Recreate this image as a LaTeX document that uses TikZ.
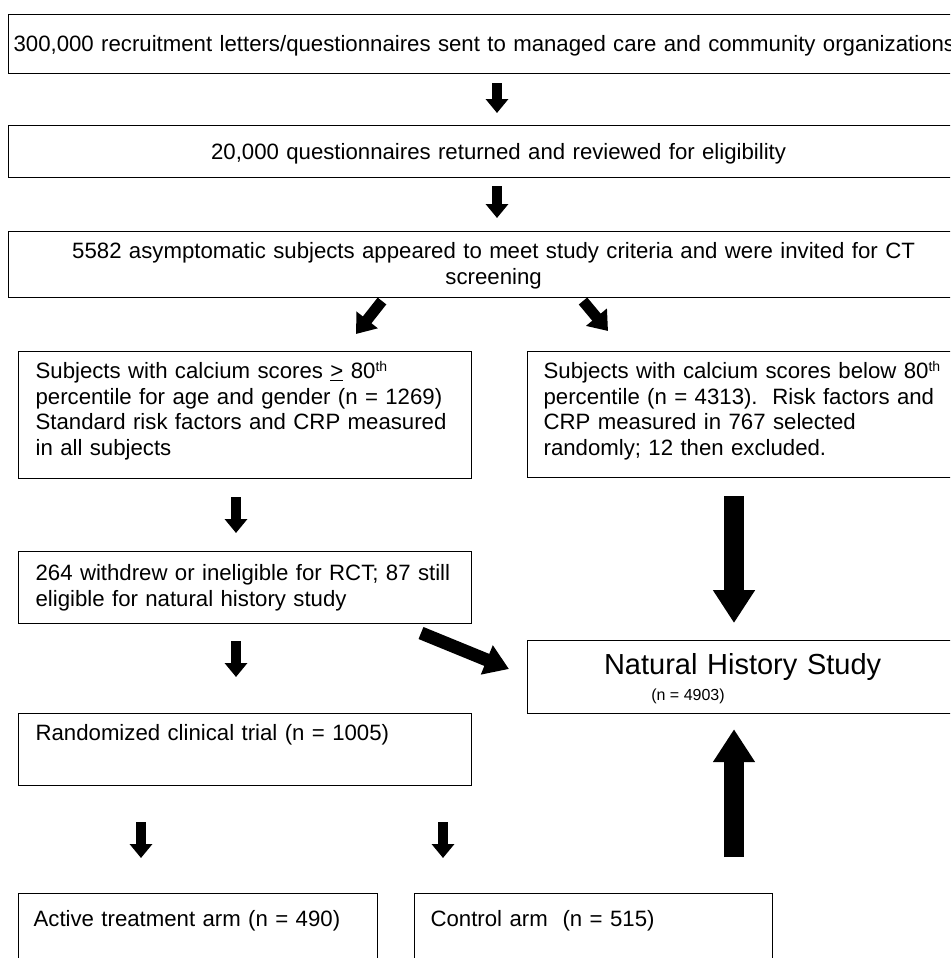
\documentclass[tikz,border=0pt]{standalone}
\usepackage{tikz}
\usepackage{xcolor}
\usepackage{fontspec}
\setmainfont{Liberation Sans}
\usetikzlibrary{arrows.meta}

\newcommand{\bodysize}{\fontsize{22.2}{25.5}\selectfont}
\newcommand{\ordth}{\textsuperscript{\fontsize{14}{14}\selectfont th}}

\begin{document}
\frenchspacing
\begin{tikzpicture}[x=1pt,y=-1pt]
\tikzstyle{every node}+=[inner sep=0pt]
\tikzstyle{box}=[draw, line width=1.2pt, anchor=north west, font=\bodysize]
\tikzstyle{smallarrow}=[line width=10pt, -{Triangle[width=22pt,length=14pt]}]
\tikzstyle{diagarrow}=[line width=11pt, -{Triangle[width=26pt,length=18pt]}]
\tikzstyle{slantarrow}=[line width=13pt, -{Triangle[width=30pt,length=24pt]}]
\tikzstyle{bigarrow}=[line width=20pt, -{Triangle[width=40pt,length=33pt]}]
\useasboundingbox (0,0) rectangle (950,958);
\clip (0,0) rectangle (950,958);
% boxes
\node[box, text width=980pt, inner xsep=5pt, align=left, text height=37pt, text depth=22pt] (recruit) at (8,14) {300,000 recruitment letters/questionnaires sent to managed care and community organizations};
\node[box, text width=970pt, inner xsep=5pt, align=center, text height=34pt, text depth=18pt] (returned) at (8,125) {20,000 questionnaires returned and reviewed for eligibility};
\node[box, text width=960pt, inner xsep=5pt, align=center, text height=27pt, text depth=39pt] (screened) at (8,231) {5582 asymptomatic subjects appeared to meet study criteria and were invited for CT\\screening};
\node[box, text width=419pt, inner xsep=17pt, align=left, text height=27pt, text depth=100pt] (high) at (18,351) {Subjects with calcium scores \underline{>} 80\ordth\\percentile for age and gender (n = 1269)\\Standard risk factors and CRP measured\\in all subjects};
\node[box, text width=420pt, inner xsep=16pt, align=left, text height=27pt, text depth=99pt] (low) at (527,351) {Subjects with calcium scores below 80\ordth\\percentile (n = 4313).~~Risk factors and\\CRP measured in 767 selected\\randomly; 12 then excluded.};
\node[box, text width=419pt, inner xsep=17pt, align=left, text height=29pt, text depth=43pt] (withdrew) at (18,551) {264 withdrew or ineligible for RCT; 87 still\\eligible for natural history study};
\node[box, text width=420pt, inner xsep=5pt, align=center, text height=34pt, text depth=39pt, font=\fontsize{29}{33}\selectfont] (nhs) at (527,640) {Natural History Study};
\node[anchor=base, font=\fontsize{16}{18}\selectfont] (nhsn) at (688,700) {(n = 4903)};
\node[box, text width=419pt, inner xsep=17pt, align=left, text height=27pt, text depth=45pt] (rct) at (18,713) {Randomized clinical trial (n = 1005)};
\node[box, text width=329pt, inner xsep=15pt, align=left, text height=33pt, text depth=47pt] (active) at (18,893) {Active treatment arm (n = 490)};
\node[box, text width=326pt, inner xsep=16pt, align=left, text height=33pt, text depth=47pt] (control) at (414,893) {Control arm~~(n = 515)};
% arrow columns and free ends
\coordinate (topcol) at (497,0);
\coordinate (leftcol) at (236,0);
\coordinate (bigcol) at (734,0);
\coordinate (armA) at (141,0);
\coordinate (armB) at (443,0);
\coordinate (sl0) at (382,301);
\coordinate (sl1) at (356,334);
\coordinate (sr0) at (583,301);
\coordinate (sr1) at (608,331);
\coordinate (nh0) at (421,633);
\coordinate (nh1) at (509,669);
\coordinate (up0) at (734,857);
% arrows
\draw[smallarrow, shorten <=9pt, shorten >=12pt] (recruit.south -| topcol) -- (returned.north -| topcol);
\draw[smallarrow, shorten <=8pt, shorten >=13pt] (returned.south -| topcol) -- (screened.north -| topcol);
\draw[diagarrow] (sl0) -- (sl1);
\draw[diagarrow] (sr0) -- (sr1);
\draw[smallarrow, shorten <=18pt, shorten >=18pt] (high.south -| leftcol) -- (withdrew.north -| leftcol);
\draw[bigarrow, shorten <=18pt, shorten >=17pt] (low.south -| bigcol) -- (nhs.north -| bigcol);
\draw[smallarrow, shorten <=17pt, shorten >=36pt] (withdrew.south -| leftcol) -- (rct.north -| leftcol);
\draw[slantarrow] (nh0) -- (nh1);
\draw[bigarrow, shorten >=15pt] (up0) -- (nhs.south -| up0);
\draw[smallarrow, shorten <=36pt, shorten >=35pt] (rct.south -| armA) -- (active.north -| armA);
\draw[smallarrow, shorten <=36pt, shorten >=35pt] (rct.south -| armB) -- (control.north -| armB);
\end{tikzpicture}
\end{document}
